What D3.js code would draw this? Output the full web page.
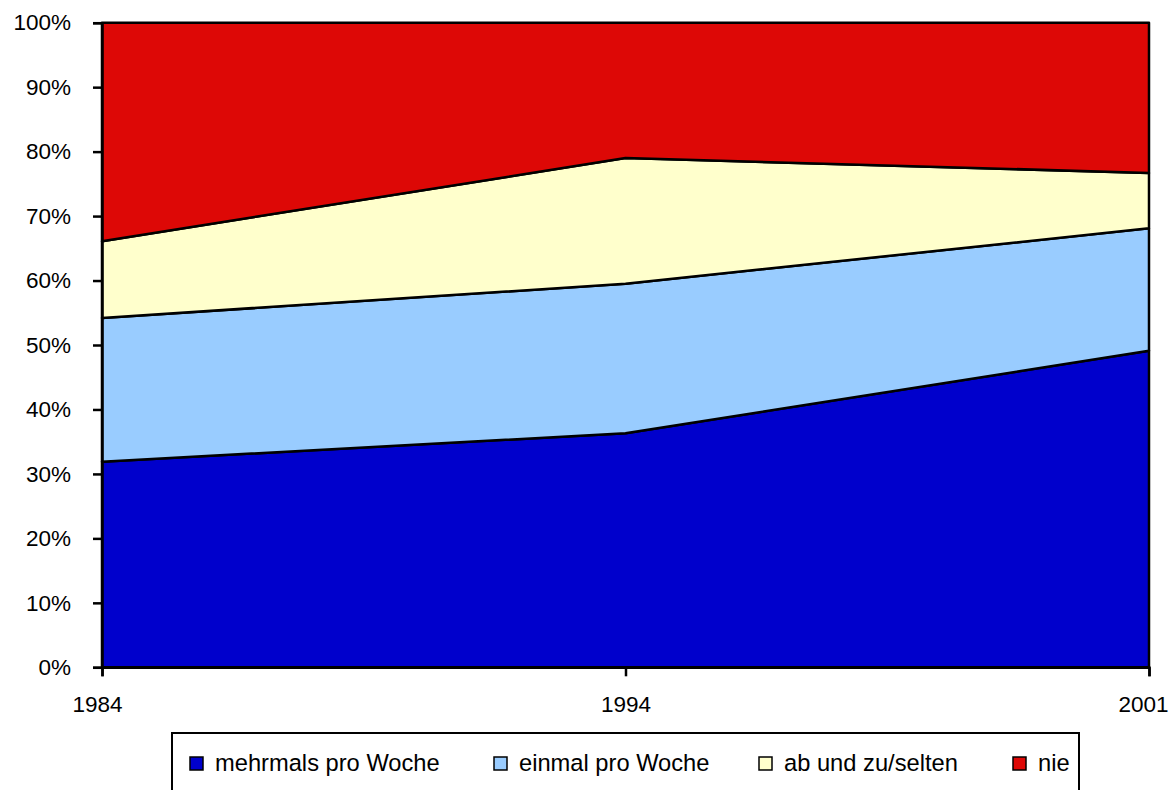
<!DOCTYPE html>
<html>
<head>
<meta charset="utf-8">
<script src="https://cdn.jsdelivr.net/npm/d3@7"></script>
<style>
  html, body { margin: 0; padding: 0; background: #fff; }
  svg { display: block; font-family: "Liberation Sans", Arial, sans-serif; }
</style>
</head>
<body>
<svg id="chart" width="1170" height="790"></svg>
<script>
// Survey years (category axis)
const years = ["1984", "1994", "2001"];

// Share of respondents per frequency group, in percent
const mehrmals = [31.9, 36.3, 49.1];
const einmal   = [22.3, 23.2, 19.0];
const abUndZu  = [11.9, 19.5,  8.6];
const nie      = [33.9, 21.0, 23.3];

const seriesNames = ["mehrmals pro Woche", "einmal pro Woche", "ab und zu/selten", "nie"];
const seriesColors = ["#0000CC", "#99CCFF", "#FFFFCC", "#DD0806"];
const yTicks = [0, 10, 20, 30, 40, 50, 60, 70, 80, 90, 100];

const table = years.map((y, i) => ({
  year: y,
  [seriesNames[0]]: mehrmals[i],
  [seriesNames[1]]: einmal[i],
  [seriesNames[2]]: abUndZu[i],
  [seriesNames[3]]: nie[i]
}));

const svg = d3.select("#chart");
const plot = { left: 102, right: 1149, top: 22.7, bottom: 667.3 };

const x = d3.scalePoint().domain(years).range([plot.left, plot.right]);
const y = d3.scaleLinear().domain([0, 100]).range([plot.bottom, plot.top]);

const stack = d3.stack().keys(seriesNames).offset(d3.stackOffsetExpand);
const layers = stack(table);

const area = d3.area()
  .x(d => x(d.data.year))
  .y0(d => y(d[0] * 100))
  .y1(d => y(d[1] * 100));

// Stacked areas, each with a black outline
svg.append("g")
  .selectAll("path")
  .data(layers)
  .join("path")
  .attr("d", area)
  .attr("fill", (d, i) => seriesColors[i])
  .attr("stroke", "#000")
  .attr("stroke-width", 2.5)
  .attr("stroke-linejoin", "round");

// Y axis
const yAxis = d3.axisLeft(y)
  .tickValues(yTicks)
  .tickFormat(d => d + "%")
  .tickSize(9)
  .tickPadding(22);
const gy = svg.append("g")
  .attr("transform", `translate(${plot.left},0)`)
  .call(yAxis);
gy.select(".domain").attr("stroke", "#000").attr("stroke-width", 2.5);
gy.selectAll(".tick line").attr("stroke", "#000").attr("stroke-width", 2.5);
gy.selectAll(".tick text")
  .attr("font-size", 22.5)
  .attr("fill", "#000")
  .attr("font-family", "Liberation Sans, Arial, sans-serif");

// X axis
const xAxis = d3.axisBottom(x).tickSize(9).tickPadding(20);
const gx = svg.append("g")
  .attr("transform", `translate(0,${plot.bottom})`)
  .call(xAxis);
gx.select(".domain").attr("stroke", "#000").attr("stroke-width", 2.5);
gx.selectAll(".tick line").attr("stroke", "#000").attr("stroke-width", 2.5);
gx.selectAll(".tick text")
  .attr("font-size", 22.5)
  .attr("fill", "#000")
  .attr("font-family", "Liberation Sans, Arial, sans-serif")
  .attr("x", (d, i) => i === 0 ? -5 : (i === years.length - 1 ? -6 : 0));

// Legend
const legend = svg.append("g");
legend.append("rect")
  .attr("x", 172).attr("y", 733)
  .attr("width", 907).attr("height", 70)
  .attr("fill", "#fff")
  .attr("stroke", "#000")
  .attr("stroke-width", 2);

const legendX = [190, 494, 759, 1013];
const items = legend.selectAll("g.item")
  .data(seriesNames)
  .join("g")
  .attr("class", "item")
  .attr("transform", (d, i) => `translate(${legendX[i]},757)`);
items.append("rect")
  .attr("width", 13).attr("height", 13)
  .attr("fill", (d, i) => seriesColors[i])
  .attr("stroke", "#000")
  .attr("stroke-width", 1.5);
items.append("text")
  .attr("x", 25).attr("y", 14)
  .attr("font-size", 23.7)
  .attr("fill", "#000")
  .text(d => d);
</script>
</body>
</html>
